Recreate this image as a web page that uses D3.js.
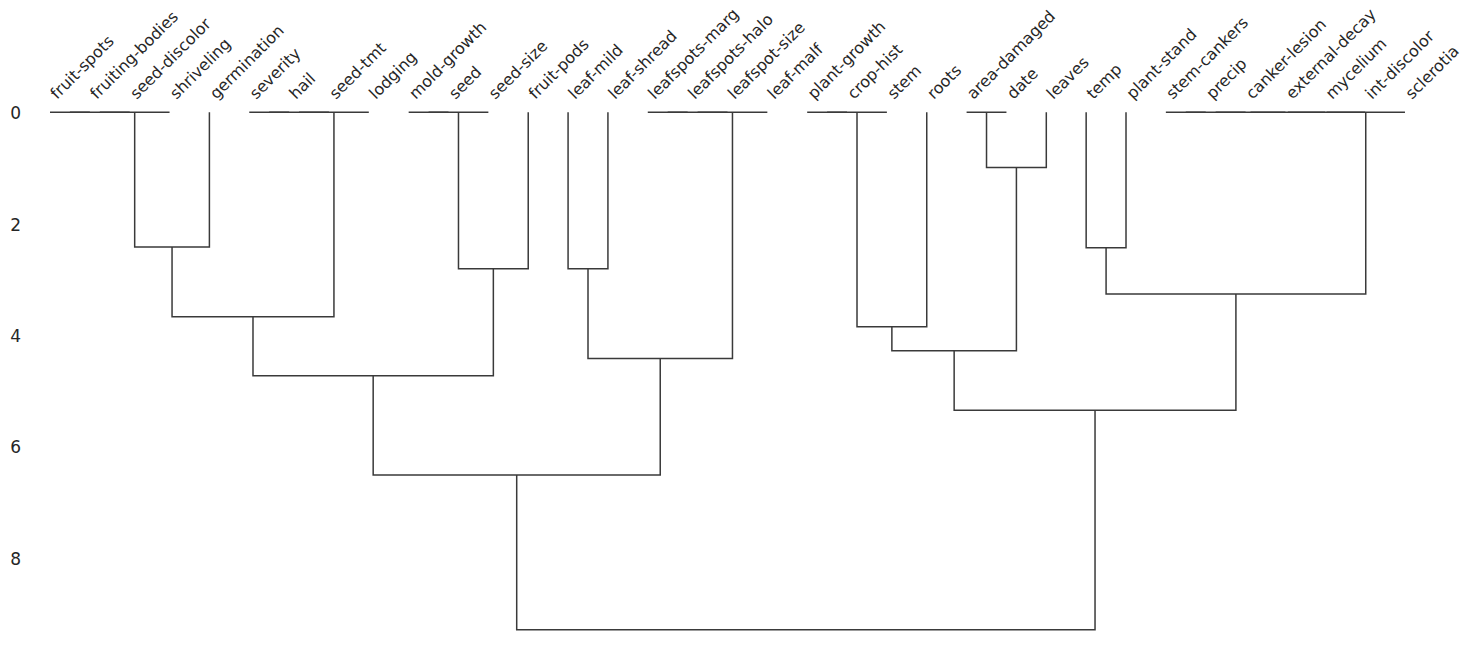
<!DOCTYPE html>
<html>
<head>
<meta charset="utf-8">
<script src="https://cdn.jsdelivr.net/npm/d3@7"></script>
<style>
  html, body { margin: 0; padding: 0; background: #fff; }
  svg { display: block; }
  text { font-family: "DejaVu Sans", sans-serif; fill: #262626; }
</style>
</head>
<body>
<svg id="chart" width="1470" height="663"></svg>
<script>
// Leaf order (left to right)
const leaves = ["fruit-spots","fruiting-bodies","seed-discolor","shriveling","germination",
  "severity","hail","seed-tmt","lodging","mold-growth","seed","seed-size","fruit-pods",
  "leaf-mild","leaf-shread","leafspots-marg","leafspots-halo","leafspot-size","leaf-malf",
  "plant-growth","crop-hist","stem","roots","area-damaged","date","leaves","temp","plant-stand",
  "stem-cankers","precip","canker-lesion","external-decay","mycelium","int-discolor","sclerotia"];

// Linkage (scipy style): ids 0..34 are leaves, merge k creates id 35+k
const mergeLeft  = [0,35,36,37, 5,39,40,38, 9,43,44,42, 13,15,48,49,47,46, 19,53,54, 23,56,55, 26, 28,60,61,62,63,64,59,58,52];
const mergeRight = [1, 2, 3, 4, 6, 7, 8,41,10,11,12,45, 14,16,17,18,50,51, 20,21,22, 24,25,57, 27, 29,30,31,32,33,34,65,66,67];
const mergeHeight= [0, 0, 0,2.42, 0, 0, 0,3.67, 0, 0,2.81,4.73, 2.81, 0, 0, 0,4.42,6.51, 0, 0,3.85, 0,0.99,4.28, 2.43, 0, 0, 0, 0, 0, 0,3.26,5.35,9.29];

const yTicks = [0, 2, 4, 6, 8];

const svg = d3.select("#chart");
const n = leaves.length;
const maxH = d3.max(mergeHeight);

const x = d3.scaleLinear().domain([0, n * 10]).range([30.07, 1424.9]);
const y = d3.scaleLinear().domain([0, maxH * 1.05]).range([112.3, 112.3 + maxH * 1.05 * 55.7]);

// positions
const pos = leaves.map((_, i) => 5 + 10 * i);
const hgt = leaves.map(() => 0);
const links = [];
mergeLeft.forEach((l, k) => {
  const r = mergeRight[k], h = mergeHeight[k];
  links.push({x1: pos[l], h1: hgt[l], x2: pos[r], h2: hgt[r], h});
  pos.push((pos[l] + pos[r]) / 2);
  hgt.push(h);
});

svg.append("g")
  .selectAll("path")
  .data(links)
  .join("path")
  .attr("d", d => {
    const p = d3.path();
    p.moveTo(x(d.x1), y(d.h1));
    p.lineTo(x(d.x1), y(d.h));
    p.lineTo(x(d.x2), y(d.h));
    p.lineTo(x(d.x2), y(d.h2));
    return p.toString();
  })
  .attr("fill", "none")
  .attr("stroke", "#3a3a3a")
  .attr("stroke-width", 1.5);

// y axis labels (no line, no ticks)
const yAxis = d3.axisLeft(y).tickValues(yTicks).tickSize(0).tickPadding(0).tickFormat(d3.format("d"));
const gy = svg.append("g").attr("transform", "translate(21,1)").call(yAxis);
gy.select(".domain").remove();
gy.selectAll("text")
  .attr("font-size", 17)
  .attr("font-family", "DejaVu Sans, sans-serif")
  .attr("fill", "#262626");

// x labels (rotated leaf names)
svg.append("g")
  .selectAll("text")
  .data(leaves)
  .join("text")
  .attr("transform", (d, i) => `translate(${x(5 + 10 * i) + 7},100) rotate(-45)`)
  .attr("font-size", 16)
  .attr("text-anchor", "start")
  .text(d => d);
</script>
</body>
</html>
